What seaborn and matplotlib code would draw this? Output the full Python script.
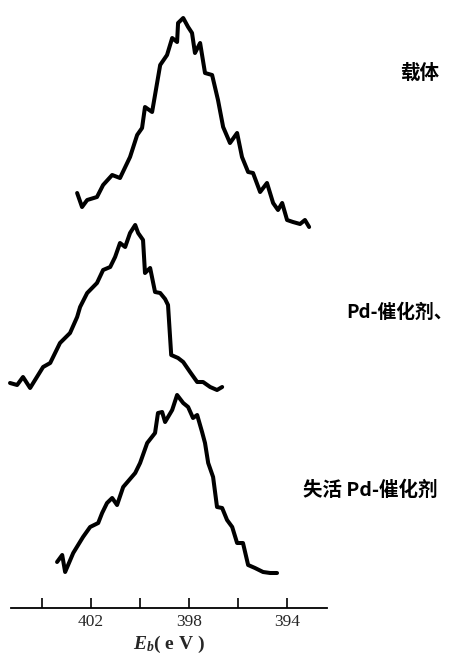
import numpy as np
import pandas as pd
import matplotlib
matplotlib.use("Agg")
import matplotlib.pyplot as plt
import seaborn as sns

# ---- data (binding energy in eV, intensity in arbitrary units above each curve's baseline) ----
support_eb = [402.57, 402.37, 402.16, 401.76, 401.51, 401.14, 400.82, 400.41, 400.12, 399.92,
              399.80, 399.51, 399.39, 399.18, 398.90, 398.69, 398.49, 398.45, 398.24, 398.04,
              397.88, 397.76, 397.55, 397.35, 397.06, 396.82, 396.61, 396.33, 396.04, 395.84,
              395.59, 395.39, 395.10, 394.82, 394.57, 394.37, 394.20, 394.00, 393.76, 393.47,
              393.27, 393.10]
support_int = [37, 23, 30, 33, 45, 55, 52, 73, 95, 102,
               123, 118, 135, 165, 175, 192, 188, 207, 212, 203,
               197, 177, 187, 157, 155, 130, 103, 87, 97, 73,
               58, 57, 38, 47, 27, 20, 27, 10, 8, 6,
               10, 3]

pd_eb = [405.31, 405.02, 404.78, 404.49, 403.96, 403.67, 403.27, 402.86, 402.57, 402.45,
         402.16, 401.76, 401.51, 401.22, 401.02, 400.82, 400.61, 400.41, 400.20, 400.08,
         399.88, 399.80, 399.59, 399.39, 399.18, 398.98, 398.86, 398.73, 398.45, 398.24,
         397.96, 397.67, 397.43, 397.14, 396.86, 396.65]
pd_int = [12, 10, 18, 7, 28, 32, 52, 62, 78, 88,
          102, 112, 125, 128, 138, 152, 148, 162, 170, 162,
          155, 122, 127, 103, 102, 96, 90, 40, 37, 33,
          23, 13, 13, 8, 5, 8]

deact_eb = [403.39, 403.18, 403.06, 402.73, 402.33, 402.04, 401.71, 401.55, 401.35, 401.14,
            400.94, 400.69, 400.20, 400.00, 399.71, 399.39, 399.27, 399.10, 398.98, 398.69,
            398.49, 398.24, 398.04, 397.84, 397.67, 397.47, 397.35, 397.22, 397.02, 396.86,
            396.65, 396.45, 396.24, 396.04, 395.80, 395.59, 395.31, 394.98, 394.69, 394.41]
deact_int = [13, 20, 3, 22, 38, 48, 52, 62, 72, 77,
             70, 88, 102, 112, 132, 142, 162, 163, 153, 165,
             180, 172, 168, 157, 160, 143, 132, 112, 98, 68,
             67, 55, 48, 32, 32, 10, 7, 3, 2, 2]

labels = ["载体", "Pd-催化剂、", "失活 Pd-催化剂"]
tick_values = [404, 402, 400, 398, 396, 394]
tick_labels = ["", "402", "", "398", "", "394"]

# ---- style ----
sns.set_theme(style="white")
plt.rcParams["font.family"] = ["Liberation Serif", "Noto Sans CJK SC", "DejaVu Sans"]
plt.rcParams["mathtext.fontset"] = "custom"
plt.rcParams["mathtext.it"] = "Liberation Serif:italic:bold"
plt.rcParams["mathtext.rm"] = "Liberation Serif:bold"

W, H = 453, 656
fig = plt.figure(figsize=(W / 100, H / 100), dpi=100)
ax_left, ax_right, ax_bottom, ax_top = 11, 327, 608, 10
ax = fig.add_axes([ax_left / W, (H - ax_bottom) / H,
                   (ax_right - ax_left) / W, (ax_bottom - ax_top) / H])

offsets = [378, 213, 33]
series = [(support_eb, support_int), (pd_eb, pd_int), (deact_eb, deact_int)]
for (eb, inten), off in zip(series, offsets):
    df = pd.DataFrame({"Eb": eb, "I": np.array(inten) + off})
    sns.lineplot(data=df, x="Eb", y="I", ax=ax, color="black", lw=2.9,
                 estimator=None, sort=False, clip_on=False,
                 solid_joinstyle="round", solid_capstyle="round")

ax.set_xlim(405.27, 392.37)
ax.set_ylim(0, 598)
ax.set_yticks([])
ax.set_ylabel("")
for s in ["top", "left", "right"]:
    ax.spines[s].set_visible(False)
ax.spines["bottom"].set_linewidth(1.3)
ax.spines["bottom"].set_color("black")
ax.set_xticks(tick_values)
ax.set_xticklabels(tick_labels)
ax.tick_params(axis="x", direction="in", length=7, width=1.2, color="black",
               labelsize=12.5, pad=4, bottom=True)
for t in ax.get_xticklabels():
    t.set_fontfamily("Liberation Serif")
ax.set_xlabel(r"$E_b$( e V )", fontsize=14, fontweight="bold", labelpad=3,
              fontfamily="Liberation Serif")

cjk = ["Noto Sans CJK SC", "DejaVu Sans"]
label_pos = [(400, 73), (346, 312), (303, 490)]
label_sizes = [14, 13.5, 14]
for txt, (px, py), fs in zip(labels, label_pos, label_sizes):
    fig.text(px / W, 1 - py / H, txt, fontsize=fs, fontweight="bold",
             family=cjk, ha="left", va="center", color="black")

fig.savefig("out.png", dpi=100)
